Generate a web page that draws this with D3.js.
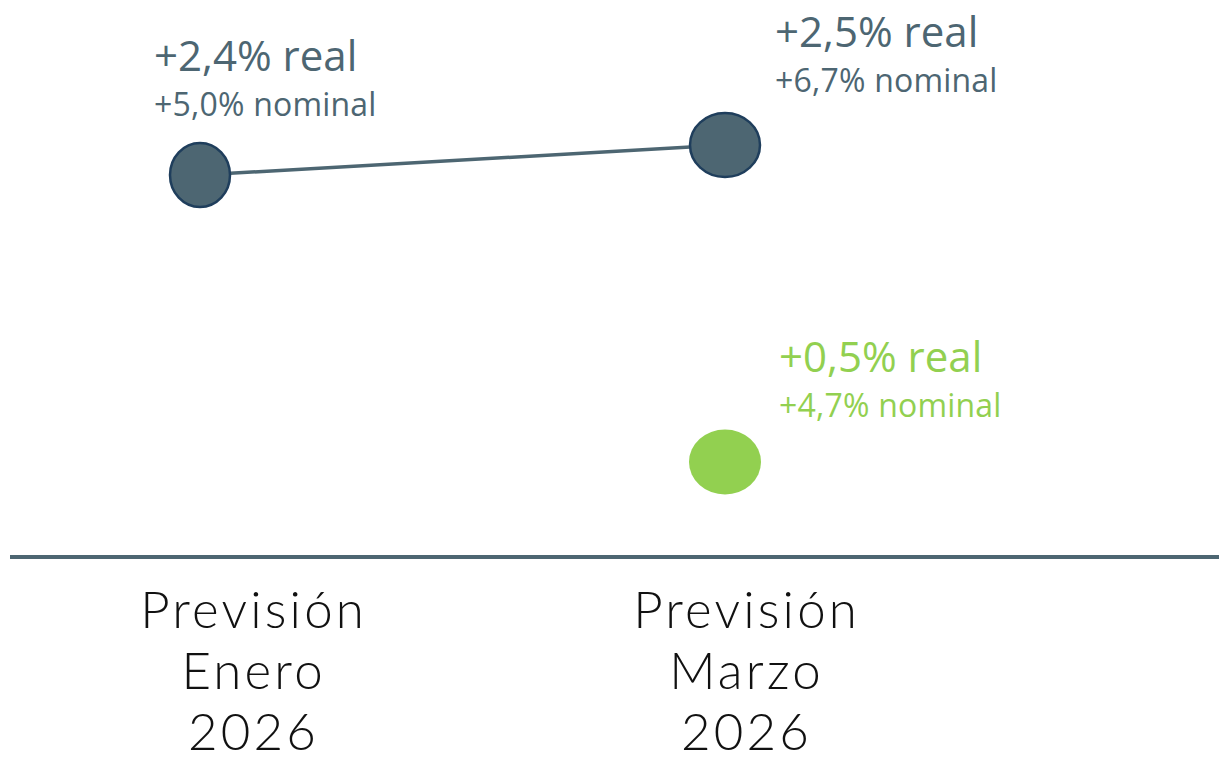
<!DOCTYPE html>
<html><head><meta charset="utf-8">
<script src="https://cdn.jsdelivr.net/npm/d3@7"></script>
<style>html,body{margin:0;padding:0;background:#fff;}svg{display:block;}</style>
</head><body>
<svg id="c" width="1219" height="760"></svg>
<script>
const categories = ["Enero", "Marzo"];
const categoryLabels = [["Previsión","Enero","2026"],["Previsión","Marzo","2026"]];
const prevSeries = [2.4, 2.5];          // real growth, dark series
const prevNominal = [5.0, 6.7];
const newSeriesCat = ["Marzo"];
const newSeries = [0.5];                // real growth, green series
const newNominal = [4.7];

const fmt = v => "+" + d3.format(".1f")(v).replace(".", ",") + "%";

const svg = d3.select("#c");
const dark = "#4d6672", darkStroke = "#1f3e5c", green = "#92d050";

const x = d3.scalePoint().domain(categories).range([200, 725]);
const xLab = d3.scalePoint().domain(categories).range([252, 745]);
const y = d3.scaleLinear().domain([0, 0.5, 2.4, 2.5]).range([557, 462, 175, 145]);

// baseline
svg.append("line").attr("x1", 10).attr("x2", 1219).attr("y1", y(0)).attr("y2", y(0))
  .attr("stroke", dark).attr("stroke-width", 4);

// line
const pts = categories.map((c,i)=>({c, v: prevSeries[i], n: prevNominal[i]}));
svg.append("path").datum(pts)
  .attr("d", d3.line().x(d=>x(d.c)).y(d=>y(d.v)))
  .attr("fill","none").attr("stroke", dark).attr("stroke-width", 3.5);

svg.selectAll(".pd").data(pts).enter().append("ellipse")
  .attr("cx", d=>x(d.c)).attr("cy", d=>y(d.v))
  .attr("rx", (d,i)=> i===0 ? 30 : 35).attr("ry", 32)
  .attr("fill", dark).attr("stroke", darkStroke).attr("stroke-width", 2.5);

const gpts = newSeriesCat.map((c,i)=>({c, v:newSeries[i], n:newNominal[i]}));
svg.selectAll(".pg").data(gpts).enter().append("ellipse")
  .attr("cx", d=>x(d.c)).attr("cy", d=>y(d.v))
  .attr("rx", 36).attr("ry", 32.5).attr("fill", green);

// value labels
const ff = "'Open Sans', sans-serif";
function valLabel(d, color, dx, dyReal) {
  const g = svg.append("g");
  g.append("text").attr("x", x(d.c) + dx).attr("y", y(d.v) + dyReal)
    .attr("font-family", ff).attr("font-size", 42).attr("fill", color)
    .text(fmt(d.v) + " real");
  g.append("text").attr("x", x(d.c) + dx).attr("y", y(d.v) + dyReal + 45)
    .attr("font-family", ff).attr("font-size", 32).attr("letter-spacing", 0.2).attr("fill", color)
    .text(fmt(d.n) + " nominal");
}
valLabel(pts[0], dark, -46, -104);
valLabel(pts[1], dark, 50, -98);
valLabel(gpts[0], green, 54, -90);

// category labels
categories.forEach((c, i) => {
  categoryLabels[i].forEach((line, j) => {
    svg.append("text").attr("text-anchor", "middle")
      .attr("font-family", "Lato, sans-serif").attr("font-weight", 300)
      .attr("font-size", 51).attr("letter-spacing", 3.2).attr("fill", "#111")
      .attr("x", xLab(c) + 1.6).attr("y", 628 + j*61).text(line);
  });
});
</script>
</body></html>
